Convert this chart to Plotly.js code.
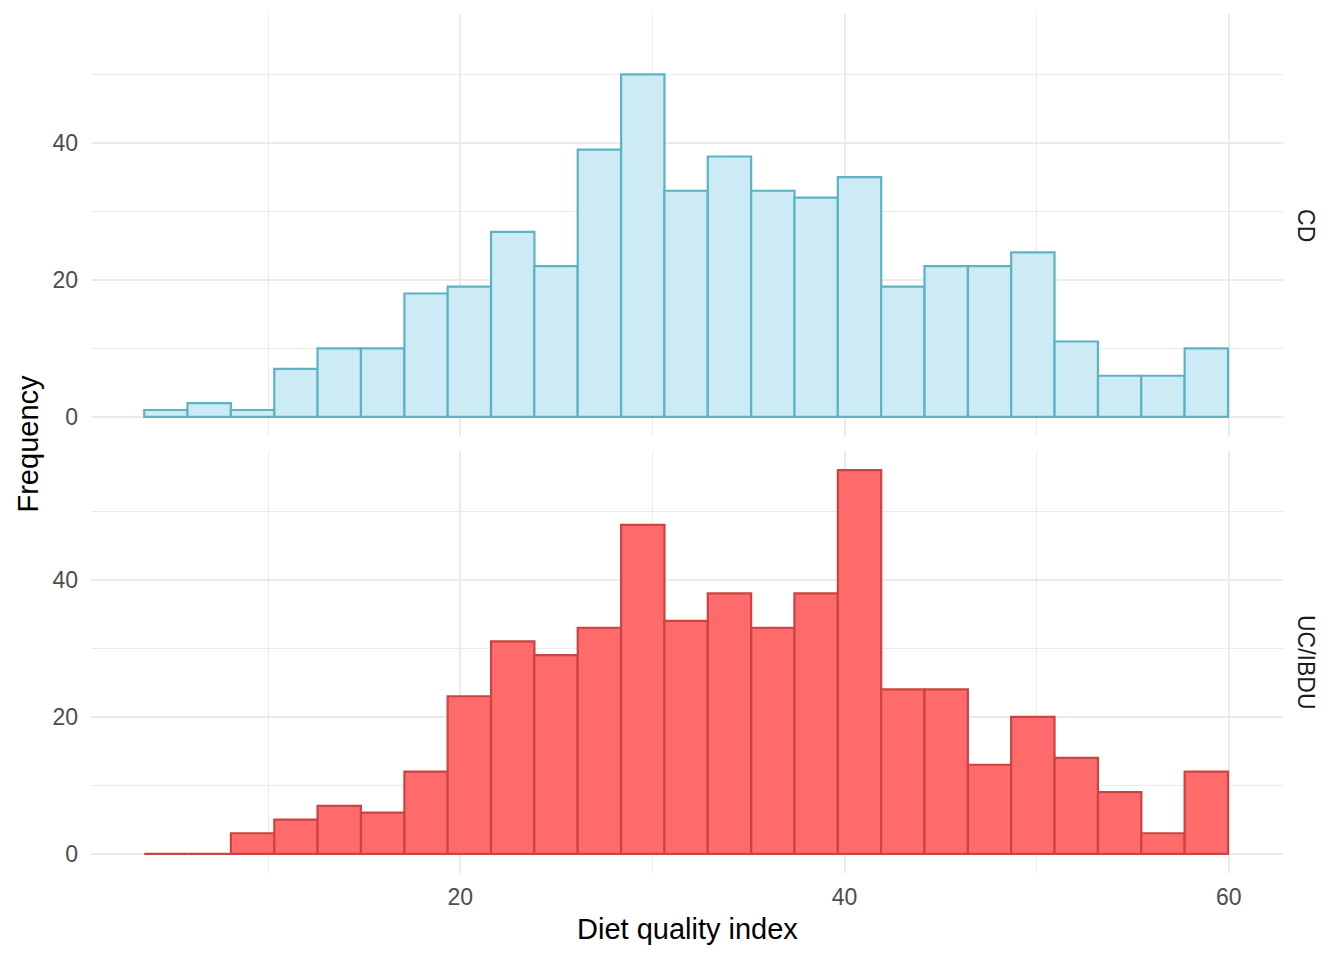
<!DOCTYPE html>
<html>
<head>
<meta charset="utf-8">
<script src="https://cdn.plot.ly/plotly-3.0.1.min.js"></script>
<style>html,body{margin:0;padding:0;background:#fff;}#chart{width:1344px;height:960px;}</style>
</head>
<body>
<div id="chart"></div>
<script>
// Bin centres of the histogram (Diet quality index)
const binCenters = [4.68, 6.93, 9.19, 11.45, 13.70, 15.96, 18.22, 20.47, 22.73, 24.98,
                    27.24, 29.50, 31.75, 34.01, 36.27, 38.52, 40.78, 43.03, 45.29, 47.55,
                    49.80, 52.06, 54.32, 56.57, 58.83];
// Frequencies per facet
const countsCD   = [1, 2, 1, 7, 10, 10, 18, 19, 27, 22, 39, 50, 33, 38, 33, 32, 35, 19, 22, 22, 24, 11, 6, 6, 10];
const countsUC   = [0, 0, 3, 5, 7, 6, 12, 23, 31, 29, 33, 48, 34, 38, 33, 38, 56, 24, 24, 13, 20, 14, 9, 3, 12];
const facetLabels = ["CD", "UC/IBDU"];
const xTicks = [20, 40, 60];
const yTicks = [0, 20, 40];

const binWidth = 2.2563;
const FONT = "Liberation Sans, Arial, sans-serif";

const traces = [
  {
    type: "bar", x: binCenters, y: countsCD, width: binCenters.map(() => binWidth),
    xaxis: "x2", yaxis: "y2",
    marker: {color: "#CCEBF4", line: {color: "#5BB3C3", width: 2.2}},
    hoverinfo: "x+y", showlegend: false
  },
  {
    type: "bar", x: binCenters, y: countsUC, width: binCenters.map(() => binWidth),
    xaxis: "x", yaxis: "y",
    marker: {color: "#FF6B6B", line: {color: "#CB4343", width: 2.2}},
    hoverinfo: "x+y", showlegend: false
  }
];

const grid = "#EBEBEB";
const xCommon = {
  range: [0.78, 62.82], tickvals: xTicks, ticktext: xTicks.map(String),
  showgrid: true, gridcolor: grid, gridwidth: 2, zeroline: false, showline: false, ticks: "",
  minor: {tickvals: [10, 30, 50], showgrid: true, gridcolor: grid, gridwidth: 1, ticks: ""},
  tickfont: {family: FONT, size: 23, color: "#4D4D4D"}, ticklabelstandoff: 8
};
const yCommon = {
  range: [-2.8, 58.8], tickvals: yTicks, ticktext: yTicks.map(String),
  showgrid: true, gridcolor: grid, gridwidth: 2, zeroline: false, showline: false, ticks: "",
  minor: {tickvals: [10, 30, 50], showgrid: true, gridcolor: grid, gridwidth: 1, ticks: ""},
  tickfont: {family: FONT, size: 23, color: "#4D4D4D"}, ticklabelstandoff: 12
};

const layout = {
  width: 1344, height: 960,
  margin: {l: 91, r: 61, t: 14, b: 87},
  paper_bgcolor: "#fff", plot_bgcolor: "#fff",
  bargap: 0,
  xaxis: Object.assign({}, xCommon, {domain: [0, 1], anchor: "y"}),
  yaxis: Object.assign({}, yCommon, {domain: [0, 0.4913], anchor: "x"}),
  xaxis2: Object.assign({}, xCommon, {domain: [0, 1], anchor: "y2", matches: "x", showticklabels: false}),
  yaxis2: Object.assign({}, yCommon, {domain: [0.5087, 1], anchor: "x2"}),
  annotations: [
    {text: facetLabels[0], xref: "paper", yref: "paper", x: 1, xanchor: "center", xshift: 23, y: 0.7543,
     yanchor: "middle", textangle: 90, showarrow: false, font: {family: FONT, size: 23, color: "#1A1A1A"}},
    {text: facetLabels[1], xref: "paper", yref: "paper", x: 1, xanchor: "center", xshift: 23, y: 0.2457,
     yanchor: "middle", textangle: 90, showarrow: false, font: {family: FONT, size: 23, color: "#1A1A1A"}},
    {text: "Frequency", xref: "paper", yref: "paper", x: 0, xanchor: "center", xshift: -64, y: 0.5,
     yanchor: "middle", textangle: -90, showarrow: false, font: {family: FONT, size: 29, color: "#000"}},
    {text: "Diet quality index", xref: "paper", yref: "paper", x: 0.5, y: 0, yshift: -56,
     yanchor: "middle", showarrow: false, font: {family: FONT, size: 29, color: "#000"}}
  ]
};

Plotly.newPlot("chart", traces, layout, {displayModeBar: false, staticPlot: true});
</script>
</body>
</html>
